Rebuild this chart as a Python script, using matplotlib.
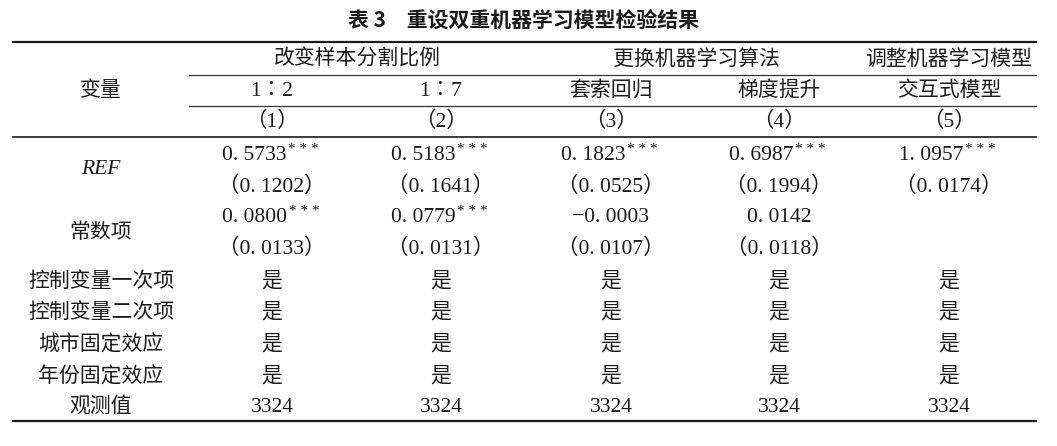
import matplotlib
matplotlib.use("Agg")
import matplotlib.pyplot as plt

plt.rcParams["font.family"] = ["Liberation Serif", "Noto Sans CJK SC"]

W, H = 1057, 446

TITLE = "表 3　重设双重机器学习模型检验结果"
GROUPS = ["改变样本分割比例", "更换机器学习算法", "调整机器学习模型"]
GROUP_SPANS = [(0, 1), (2, 3), (4, 4)]
SUBHEADS = ["1∶2", "1∶7", "套索回归", "梯度提升", "交互式模型"]
COLNUMS = ["（1）", "（2）", "（3）", "（4）", "（5）"]

REF_COEF = ["0. 5733", "0. 5183", "0. 1823", "0. 6987", "1. 0957"]
REF_STARS = ["***", "***", "***", "***", "***"]
REF_SE = ["（0. 1202）", "（0. 1641）", "（0. 0525）", "（0. 1994）", "（0. 0174）"]
CONST_COEF = ["0. 0800", "0. 0779", "−0. 0003", "0. 0142", ""]
CONST_STARS = ["***", "***", "", "", ""]
CONST_SE = ["（0. 0133）", "（0. 0131）", "（0. 0107）", "（0. 0118）", ""]

ROW_LABELS = ["控制变量一次项", "控制变量二次项", "城市固定效应", "年份固定效应", "观测值"]
ROW_VALUES = [
    ["是"] * 5,
    ["是"] * 5,
    ["是"] * 5,
    ["是"] * 5,
    ["3324"] * 5,
]

# layout (pixels)
col_x = [272, 441, 611, 779, 949]
label_x = 101
left, right = 13, 1036
span_left = 189
fs = 15
fs_num = 15.5

fig = plt.figure(figsize=(W / 100, H / 100), dpi=100)
ax = fig.add_axes([0, 0, 1, 1])
ax.set_xlim(0, W)
ax.set_ylim(H, 0)
ax.axis("off")


def txt(x, y, s, **kw):
    kw.setdefault("fontsize", fs)
    return ax.text(x, y, s, ha="center", va="center", color="#1a1a1a", **kw)


def coef(x, y, s, stars):
    if not s:
        return
    if not stars:
        txt(x, y, s, fontsize=fs_num)
        return
    t = txt(x - 18, y, s, fontsize=fs_num)
    ax.annotate(" ".join(stars), xy=(1, 1), xycoords=t, xytext=(1.5, 1.5),
                textcoords="offset points", ha="left", va="top",
                fontsize=11, color="#1a1a1a")


txt(524, 20, TITLE, fontsize=15, fontweight="bold", family=["Noto Sans CJK SC"])

# rules
ax.plot([left, right], [42, 42], color="#1a1a1a", lw=1.6)
ax.plot([span_left, right], [74.5, 74.5], color="#333333", lw=0.9)
ax.plot([span_left, right], [106, 106], color="#333333", lw=0.9)
ax.plot([left, right], [137, 137], color="#1a1a1a", lw=1.2)
ax.plot([left, right], [421, 421], color="#1a1a1a", lw=1.6)

# header
txt(label_x, 91, "变量")
for g, (a, b) in zip(GROUPS, GROUP_SPANS):
    txt((col_x[a] + col_x[b]) / 2 + (1 if a != b else 0), 60, g)
for x, s in zip(col_x, SUBHEADS):
    txt(x, 91, s, fontsize=fs_num if "∶" in s else fs)
for x, s in zip(col_x, COLNUMS):
    txt(x, 122, s, fontsize=fs_num)

# REF
txt(label_x, 170, "REF", style="italic", fontsize=fs_num)
for x, c, st, se in zip(col_x, REF_COEF, REF_STARS, REF_SE):
    coef(x, 155, c, st)
    txt(x, 187, se, fontsize=fs_num)

# constant
txt(label_x, 233, "常数项")
for x, c, st, se in zip(col_x, CONST_COEF, CONST_STARS, CONST_SE):
    coef(x, 217, c, st)
    if se:
        txt(x, 249, se, fontsize=fs_num)

row_y = [282, 313, 345, 377, 407]
for y, lab, vals in zip(row_y, ROW_LABELS, ROW_VALUES):
    txt(label_x, y, lab)
    for x, v in zip(col_x, vals):
        txt(x, y, v, fontsize=fs_num if v.isdigit() else fs)

fig.savefig("out.png", dpi=100, facecolor="white")
